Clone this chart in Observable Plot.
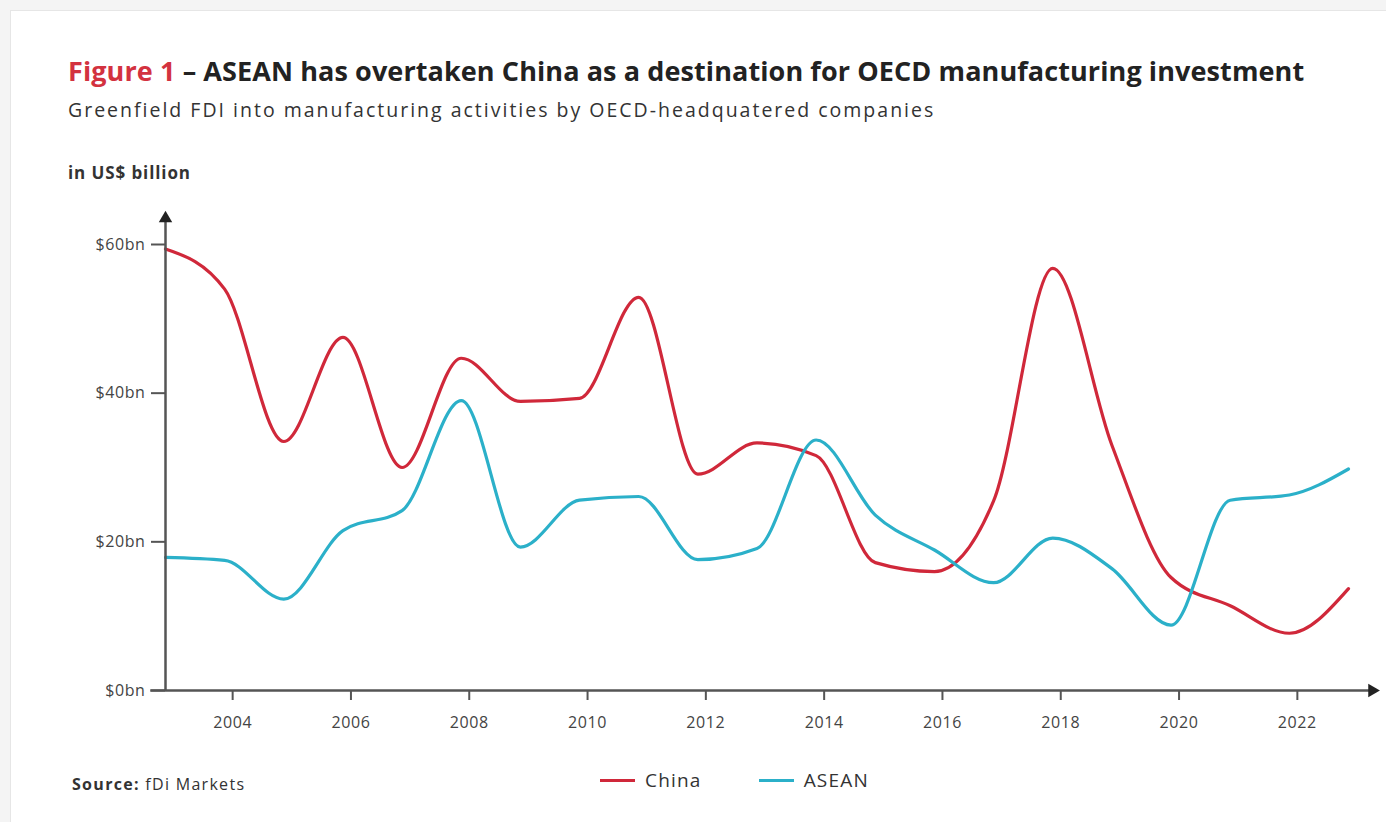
<!DOCTYPE html>
<html>
<head>
<meta charset="utf-8">
<script src="https://cdn.jsdelivr.net/npm/d3@7"></script>
<script src="https://cdn.jsdelivr.net/npm/@observablehq/plot@0.6"></script>
<style>
  html, body { margin: 0; padding: 0; background: #f4f4f4; }
  #page { position: relative; width: 1386px; height: 822px; overflow: hidden; font-family: "Open Sans", "Noto Sans", sans-serif; }
  #panel { position: absolute; left: 10px; top: 10px; width: 1400px; height: 830px; background: #fff; border: 1px solid #e6e6e6; }
  #title { position: absolute; left: 68px; top: 52px; font-size: 27px; font-weight: 700; color: #222; white-space: nowrap; letter-spacing: 0.1px; }
  #title .fig { color: #d3323f; }
  #subtitle { position: absolute; left: 68px; top: 96px; font-size: 19.5px; color: #333; white-space: nowrap; letter-spacing: 2px; }
  #unit { position: absolute; left: 68px; top: 161px; font-size: 17px; font-weight: 700; color: #333; letter-spacing: 0.9px; }
  #chart { position: absolute; left: 0; top: 195px; }
  #source { position: absolute; left: 72px; top: 773px; font-size: 16px; color: #333; letter-spacing: 1.3px; }
  #source b { font-weight: 700; }
  #legend { position: absolute; left: 600px; top: 767px; font-size: 19px; color: #333; display: flex; letter-spacing: 1.2px; }
  .item { display: flex; align-items: center; margin-right: 57px; }
  .sw { width: 35px; height: 3px; margin-right: 10px; }
</style>
</head>
<body>
<div id="page">
  <div id="panel"></div>
  <div id="title"><span class="fig">Figure 1</span> – ASEAN has overtaken China as a destination for OECD manufacturing investment</div>
  <div id="subtitle">Greenfield FDI into manufacturing activities by OECD-headquatered companies</div>
  <div id="unit">in US$ billion</div>
  <div id="chart"></div>
  <div id="source"><b>Source:</b> fDi Markets</div>
  <div id="legend"></div>
</div>
<script>
const years = [2003,2004,2005,2006,2007,2008,2009,2010,2011,2012,2013,2014,2015,2016,2017,2018,2019,2020,2021,2022,2023];
const china = [59.4,54.0,33.5,47.5,30.0,44.7,38.9,39.3,52.9,29.1,33.3,31.6,17.2,16.0,25.5,56.8,33.0,15.2,11.4,7.7,13.7];
const asean = [17.9,17.5,12.3,21.5,24.2,39.0,19.3,25.6,26.1,17.6,19.1,33.7,23.6,18.9,14.5,20.5,16.4,8.8,25.6,26.3,29.8];
const seriesNames = ["China", "ASEAN"];
const seriesColors = ["#d0283a", "#2bb0c9"];
const xTicks = [2004,2006,2008,2010,2012,2014,2016,2018,2020,2022];
const yTicks = [0,20,40,60];

const rows = [];
years.forEach((yr, i) => {
  rows.push({year: yr, value: china[i], series: "China"});
  rows.push({year: yr, value: asean[i], series: "ASEAN"});
});

const axisColor = "#555";
const xStart = 2002.75, xEnd = 2023.4, yTop = 63.5;

const chart = Plot.plot({
  width: 1386,
  height: 565,
  marginTop: 49,
  marginBottom: 70,
  marginLeft: 165,
  marginRight: 38,
  style: {fontFamily: "'Open Sans', 'Noto Sans', sans-serif", fontSize: "16px", color: "#444", background: "transparent", overflow: "visible", letterSpacing: "0.6px"},
  x: {domain: [2003, 2023]},
  y: {domain: [0, 60]},
  color: {domain: seriesNames, range: seriesColors},
  marks: [
    Plot.axisX({ticks: xTicks, tickFormat: d => String(d), tickSize: 10, tickPadding: 16, dx: 8, label: null, stroke: axisColor, strokeWidth: 2, fontSize: 16, fill: "#444"}),
    Plot.axisY({ticks: yTicks, tickFormat: d => `$${d}bn`, tickSize: 14, tickPadding: 6, label: null, stroke: axisColor, strokeWidth: 2, fontSize: 16, fill: "#444"}),
    Plot.line(rows, {x: "year", y: "value", stroke: "series", strokeWidth: 3.2, curve: "monotone-x"}),
    Plot.ruleY([0], {x1: xStart, x2: xEnd, stroke: axisColor, strokeWidth: 2.5, clip: false}),
    Plot.ruleX([2003], {y1: 0, y2: yTop, stroke: axisColor, strokeWidth: 2.5, clip: false}),
    Plot.dot([{x: 2003, y: yTop}], {x: "x", y: "y", symbol: "triangle", r: 5, fill: "#222", stroke: "none", clip: false}),
    Plot.dot([{x: xEnd, y: 0}], {x: "x", y: "y", symbol: "triangle", r: 5, rotate: 90, fill: "#222", stroke: "none", clip: false})
  ]
});
document.getElementById("chart").appendChild(chart);

const legend = document.getElementById("legend");
seriesNames.forEach((n, i) => {
  const it = document.createElement("div");
  it.className = "item";
  it.innerHTML = `<span class="sw" style="background:${seriesColors[i]}"></span><span>${n}</span>`;
  legend.appendChild(it);
});
</script>
</body>
</html>
